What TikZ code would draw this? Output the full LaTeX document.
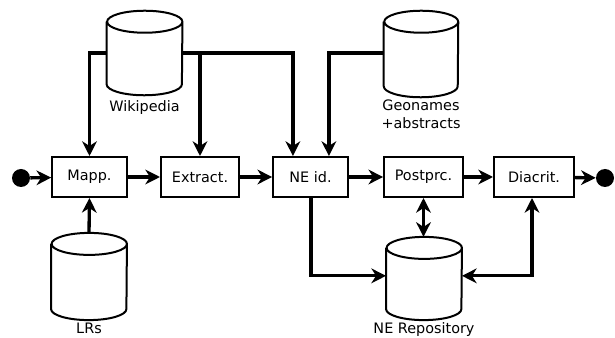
\documentclass[tikz,border=0pt]{standalone}
\usepackage{fontspec}
\setmainfont{DejaVu Sans}
\usetikzlibrary{arrows.meta}
\tikzset{
  procbox/.style={draw, line width=1.5pt, minimum height=30pt, inner sep=0pt, font=\fontsize{10.8}{12}\selectfont},
  dbbody/.style={inner sep=0pt, minimum width=56.5pt},
  dbline/.style={line width=1.5pt},
  dblabel/.style={font=\fontsize{10.8}{13.5}\selectfont, align=center, inner sep=0pt},
  arr/.style={line width=2.5pt, -{Stealth[length=11pt,width=11pt,inset=3.5pt]}},
  biarr/.style={line width=2.5pt, {Stealth[length=11pt,width=11pt,inset=3.5pt]}-{Stealth[length=11pt,width=11pt,inset=3.5pt]}},
  enddot/.style={circle, fill=black, inner sep=0pt, minimum size=13.5pt}
}
\newcommand{\cylout}[2]{%
  \draw[dbline] ([yshift=-8.25pt]#1.north west) -- ([yshift=8.25pt]#1.south west)
    arc[start angle=180,end angle=360,x radius=#2,y radius=8.25pt]
    -- ([yshift=-8.25pt]#1.north east)
    arc[start angle=0,end angle=360,x radius=#2,y radius=8.25pt];}
\begin{document}
\begin{tikzpicture}[x=0.75pt,y=-0.75pt]
\useasboundingbox (0,0) rectangle (615,338);
% process boxes
\node[procbox, minimum width=56pt] (mapp) at (89.5,177) {Mapp.};
\node[procbox, minimum width=58.5pt] (extract) at (200,177) {Extract.};
\node[procbox, minimum width=56pt] (neid) at (310.5,177) {NE id.};
\node[procbox, minimum width=59pt] (post) at (423.5,177) {Postprc.};
\node[procbox, minimum width=60pt] (diac) at (534,177) {Diacrit.};
% start/end
\node[enddot] (start) at (21,178) {};
\node[enddot] (stop) at (605,178) {};
% databases
\node[dbbody, minimum height=63pt] (wiki) at (144.5,53) {};
\cylout{wiki}{28.25pt}
\node[dblabel, anchor=north] (wikil) at (144.5,100) {Wikipedia};
\node[dbbody, minimum height=64.5pt, minimum width=55.5pt] (geo) at (421,54) {};
\cylout{geo}{27.75pt}
\node[dblabel, anchor=north] (geol) at (421,100) {Geonames\\+abstracts};
\node[dbbody, minimum height=65pt] (lrs) at (89,276.5) {};
\cylout{lrs}{28.25pt}
\node[dblabel, anchor=north] (lrsl) at (89,323) {LRs};
\node[dbbody, minimum height=62pt] (repo) at (424,278.5) {};
\cylout{repo}{28.25pt}
\node[dblabel, anchor=north] (repol) at (424,322) {NE Repository};
% main flow
\draw[arr] (start) -- (mapp);
\draw[arr] (mapp) -- (extract);
\draw[arr] (extract) -- (neid);
\draw[arr] (neid) -- (post);
\draw[arr] (post) -- (diac);
\draw[arr] (diac) -- (stop);
% wikipedia feeds
\draw[arr] (wiki.west) -| (mapp.north);
\draw[arr] (wiki.east) -| ([xshift=-13.2pt]neid.north);
\draw[arr] (extract.north |- wiki.east) -- (extract.north);
% geonames
\draw[arr] ([yshift=0.75pt]geo.west) -| ([xshift=13.8pt]neid.north);
% LRs
\draw[arr] (lrs.north) -- (mapp.south);
% repository
\draw[arr] ([xshift=0.4pt]neid.south) |- ([yshift=2pt]repo.west);
\draw[biarr] (post.south) -- (post.south |- repo.north);
\draw[biarr] ([yshift=2pt]repo.east) -| ([xshift=-1.5pt]diac.south);
\end{tikzpicture}
\end{document}
